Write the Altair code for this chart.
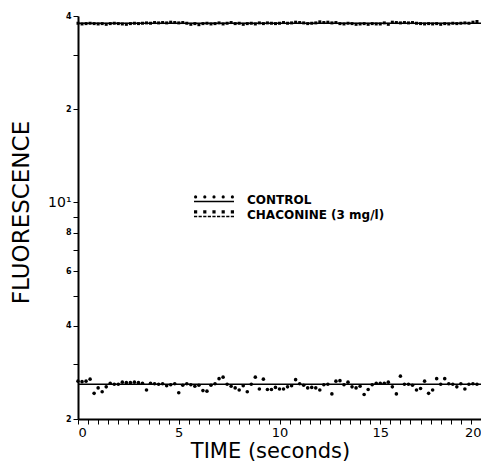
import altair as alt
import pandas as pd

# ---------------- data ----------------
times = [0.0, 0.2, 0.4, 0.6, 0.8, 1.0, 1.2, 1.4, 1.6, 1.8,
         2.0, 2.2, 2.4, 2.6, 2.8, 3.0, 3.2, 3.4, 3.6, 3.8,
         4.0, 4.2, 4.4, 4.6, 4.8, 5.0, 5.2, 5.4, 5.6, 5.8,
         6.0, 6.2, 6.4, 6.6, 6.8, 7.0, 7.2, 7.4, 7.6, 7.8,
         8.0, 8.2, 8.4, 8.6, 8.8, 9.0, 9.2, 9.4, 9.6, 9.8,
         10.0, 10.2, 10.4, 10.6, 10.8, 11.0, 11.2, 11.4, 11.6, 11.8,
         12.0, 12.2, 12.4, 12.6, 12.8, 13.0, 13.2, 13.4, 13.6, 13.8,
         14.0, 14.2, 14.4, 14.6, 14.8, 15.0, 15.2, 15.4, 15.6, 15.8,
         16.0, 16.2, 16.4, 16.6, 16.8, 17.0, 17.2, 17.4, 17.6, 17.8,
         18.0, 18.2, 18.4, 18.6, 18.8, 19.0, 19.2, 19.4, 19.6, 19.8]

control = [2.65, 2.64, 2.65, 2.69, 2.42, 2.52, 2.45, 2.54, 2.61, 2.59,
           2.59, 2.63, 2.62, 2.62, 2.63, 2.62, 2.61, 2.48, 2.61, 2.60,
           2.59, 2.60, 2.56, 2.58, 2.60, 2.43, 2.57, 2.60, 2.58, 2.55,
           2.57, 2.47, 2.46, 2.57, 2.60, 2.70, 2.73, 2.59, 2.55, 2.52,
           2.48, 2.56, 2.45, 2.59, 2.73, 2.50, 2.69, 2.49, 2.49, 2.53,
           2.50, 2.50, 2.54, 2.56, 2.68, 2.60, 2.57, 2.52, 2.53, 2.52,
           2.48, 2.58, 2.59, 2.41, 2.65, 2.66, 2.58, 2.63, 2.54, 2.52,
           2.55, 2.40, 2.49, 2.58, 2.61, 2.61, 2.61, 2.63, 2.54, 2.41,
           2.75, 2.59, 2.59, 2.57, 2.48, 2.51, 2.65, 2.42, 2.48, 2.70,
           2.59, 2.70, 2.60, 2.59, 2.54, 2.60, 2.50, 2.59, 2.60, 2.59]

chaconine = [37.9, 37.7, 37.8, 37.9, 37.8, 37.7, 37.8, 37.6, 37.8, 37.9,
             37.8, 37.7, 37.6, 37.8, 37.9, 37.8, 37.9, 38.0, 37.9, 38.1,
             38.0, 38.1, 38.0, 38.2, 38.1, 38.0, 38.1, 37.9, 37.6, 37.8,
             37.5, 37.8, 37.9, 37.7, 37.8, 38.0, 37.7, 37.9, 38.1, 37.8,
             37.9, 37.6, 37.8, 37.9, 37.7, 38.0, 37.8, 38.0, 37.9, 37.8,
             37.9, 38.1, 37.9, 38.0, 38.2, 38.1, 38.0, 37.8, 37.9, 38.0,
             38.3, 38.1, 38.2, 38.0, 38.1, 37.8, 37.7, 37.9, 37.8, 37.6,
             37.7, 37.8, 37.6, 37.8, 37.7, 37.7, 38.0, 37.6, 38.2, 38.1,
             38.0, 38.1, 38.0, 38.1, 37.9, 37.8, 37.7, 37.8, 37.7, 37.8,
             37.6, 37.8, 37.7, 37.9, 37.8, 37.9, 38.0, 37.9, 38.2, 38.4]

series_names = ["CONTROL", "CHACONINE (3 mg/l)"]
fit_levels = [2.59, 37.9]

x_tick_values = [0, 0.5, 1, 1.5, 2, 2.5, 3, 3.5, 4, 4.5, 5, 5.5, 6, 6.5, 7, 7.5,
                 8, 8.5, 9, 9.5, 10, 10.5, 11, 11.5, 12, 12.5, 13, 13.5, 14, 14.5,
                 15, 15.5, 16, 16.5, 17, 17.5, 18, 18.5, 19, 19.5, 20]
x_labelled = [0, 5, 10, 15, 20]
x_label_text = ["0", "5", "10", "15", "20"]

y_tick_values = [2, 3, 4, 5, 6, 7, 8, 9, 10, 20, 30, 40]
y_tick_labels = ["2", "", "4", "", "6", "", "8", "", "10\u00b9", "2", "", "4"]

# ---------------- tables ----------------
pts = pd.DataFrame({
    "time": times + times,
    "value": control + chaconine,
    "series": [series_names[0]] * len(times) + [series_names[1]] * len(times),
})
fits = pd.DataFrame({"kind": series_names, "level": fit_levels})


def expr_from(values, labels):
    parts = []
    for v, l in zip(values, labels):
        if l != "":
            parts.append(f"datum.value == {v} ? '{l}' : ")
    return "".join(parts) + "''"


x_expr = expr_from(x_labelled, x_label_text)
y_expr = expr_from(y_tick_values, y_tick_labels)

# custom legend glyphs: row of markers above a line (unit box -1..1)
r = 0.04
cy = -0.13
ly = 0.1
dots_x = [-0.92, -0.46, 0.0, 0.46, 0.92]
p_control = f"M-1,{ly}L1,{ly}"
for cx in dots_x:
    p_control += (f"M{cx - r:.3f},{cy}A{r},{r} 0 1,0 {cx + r:.3f},{cy}"
                  f"A{r},{r} 0 1,0 {cx - r:.3f},{cy}Z")
p_chac = ""
s = -1.0
while s < 1.0:
    e = min(s + 0.16, 1.0)
    p_chac += f"M{s:.2f},{ly}L{e:.2f},{ly}"
    s += 0.23
for cx in dots_x:
    p_chac += (f"M{cx - r:.3f},{cy - r:.3f}L{cx + r:.3f},{cy - r:.3f}"
               f"L{cx + r:.3f},{cy + r:.3f}L{cx - r:.3f},{cy + r:.3f}Z")

xscale = alt.Scale(domain=[0, 20], nice=False, zero=False)
yscale = alt.Scale(type="log", domain=[2, 40], nice=False)

xaxis = alt.Axis(
    values=x_tick_values, labelExpr=x_expr, labelOverlap=False,
    title="TIME  (seconds)", titleFont="DejaVu Sans", titleFontSize=21,
    titleFontWeight="normal", titleColor="black", titleX=192, titleY=38,
    titleBaseline="alphabetic", titleAlign="center",
    labelFont="DejaVu Sans", labelFontSize=13, labelColor="black", labelPadding=2,
    tickSize=5, tickColor="black", tickWidth=1,
    domainColor="black", domainWidth=2, grid=False,
)
yaxis = alt.Axis(
    values=y_tick_values, labelExpr=y_expr, labelOverlap=False,
    title="FLUORESCENCE", titleFont="DejaVu Sans", titleFontSize=23,
    titleFontWeight="normal", titleColor="black", titleX=-57, titleY=196,
    titleBaseline="middle", titleAlign="center", titleAngle=270,
    labelFont="DejaVu Sans", labelColor="black",
    labelFontWeight={"condition": {"test": "datum.value == 10", "value": "normal"}, "value": "bold"},
    labelFontSize={"condition": {"test": "datum.value == 10", "value": 14}, "value": 8},
    labelPadding=2,
    tickSize=5, tickColor="black", tickWidth=1,
    domainColor="black", domainWidth=2, grid=False,
)

points = alt.Chart(pts).mark_point(filled=True, color="black", opacity=1).encode(
    x=alt.X("time:Q", scale=xscale, axis=xaxis),
    y=alt.Y("value:Q", scale=yscale, axis=yaxis),
    shape=alt.Shape("series:N", scale=alt.Scale(domain=series_names, range=["circle", "square"]),
                    legend=None),
    size=alt.Size("series:N", scale=alt.Scale(domain=series_names, range=[13, 9]), legend=None),
)

rules = alt.Chart(fits).mark_rule(color="black", strokeWidth=1.4).encode(
    y=alt.Y("level:Q", scale=yscale),
)

legend_layer = alt.Chart(fits).mark_point(
    filled=False, color="black", opacity=0, strokeWidth=1.6
).encode(
    y=alt.Y("level:Q", scale=yscale),
    shape=alt.Shape(
        "kind:N",
        scale=alt.Scale(domain=series_names, range=[p_control, p_chac]),
        legend=alt.Legend(
            title=None, orient="none", legendX=115, legendY=176,
            symbolSize=1600, symbolStrokeColor="black",
            symbolStrokeWidth=1.6, symbolOpacity=1, clipHeight=15, rowPadding=0,
            labelFont="DejaVu Sans", labelFontSize=12, labelFontWeight="bold",
            labelColor="black", labelOffset=12, labelLimit=300,
        ),
    ),
)

chart = alt.layer(points, rules, legend_layer).resolve_scale(
    shape="independent", size="independent"
).resolve_legend(shape="independent").properties(
    width=403, height=403,
    autosize=alt.AutoSizeParams(type="none"),
    padding={"left": 70, "top": 8, "right": 0, "bottom": 42},
    background="white",
).configure_view(stroke=None)

chart.save("out.html", embed_options={"renderer": "svg", "actions": False})
